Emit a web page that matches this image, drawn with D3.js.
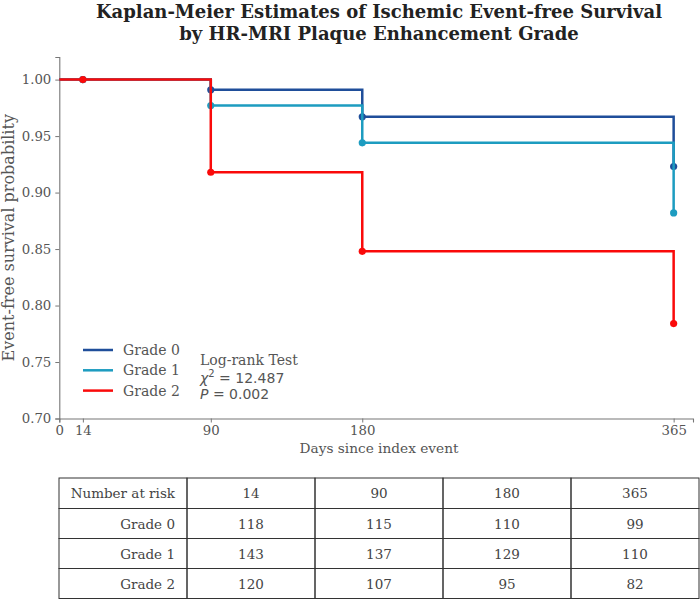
<!DOCTYPE html>
<html>
<head>
<meta charset="utf-8">
<script src="https://cdn.jsdelivr.net/npm/d3@7"></script>
<style>
  body { margin: 0; background: #fff; }
  svg { display: block; }
</style>
</head>
<body>
<svg id="chart" width="700" height="600"></svg>
<script>
// ---- data ----
const groups = ["Grade 0", "Grade 1", "Grade 2"];
const colors = ["#1f4e9a", "#1d9cc0", "#fa0a0a"];
const times = [0, 14, 90, 180, 365];
const survGrade0 = [1.0, 1.0, 0.991, 0.967, 0.923];
const survGrade1 = [1.0, 1.0, 0.977, 0.944, 0.882];
const survGrade2 = [1.0, 1.0, 0.918, 0.848, 0.784];
const markerTimes = [14, 90, 180, 365];
const xTicks = [0, 14, 90, 180, 365];
const yTicks = [0.70, 0.75, 0.80, 0.85, 0.90, 0.95, 1.00];
const riskTimes = ["14", "90", "180", "365"];
const riskGrade0 = [118, 115, 110, 99];
const riskGrade1 = [143, 137, 129, 110];
const riskGrade2 = [120, 107, 95, 82];
const titleLines = ["Kaplan-Meier Estimates of Ischemic Event-free Survival",
                    "by HR-MRI Plaque Enhancement Grade"];
const statLines = ["Log-rank Test", "12.487", "0.002"];

const survs = [survGrade0, survGrade1, survGrade2];
const risks = [riskGrade0, riskGrade1, riskGrade2];

const svg = d3.select("#chart");
const serif = "'DejaVu Serif', serif";
const sans = "'DejaVu Sans', sans-serif";
const textCol = "#555";

const x = d3.scaleLinear().domain([0, 376.5]).range([59.3, 693]);
const y = d3.scaleLinear().domain([0.70, 1.02]).range([418.5, 57]);

// title
svg.append("g").selectAll("text").data(titleLines).join("text")
  .attr("x", 379).attr("y", (d, i) => 18 + i * 21.5)
  .attr("text-anchor", "middle")
  .attr("font-family", serif).attr("font-weight", "bold")
  .attr("font-size", 18).attr("fill", "#222")
  .text(d => d);

// axes
const xAxis = svg.append("g").attr("transform", `translate(0,${y(0.70)})`)
  .call(d3.axisBottom(x).tickValues(xTicks).tickSize(4).tickPadding(3).tickFormat(d3.format("d")));
const yAxis = svg.append("g").attr("transform", `translate(${x(0)},0)`)
  .call(d3.axisLeft(y).tickValues(yTicks).tickSize(4).tickPadding(4).tickFormat(d3.format(".2f")));
[xAxis, yAxis].forEach(a => {
  a.select(".domain").attr("stroke", "#777").attr("stroke-width", 1.1);
  a.selectAll(".tick line").attr("stroke", "#777");
  a.selectAll(".tick text").attr("font-family", serif).attr("font-size", 13.3).attr("fill", textCol);
});

svg.append("text").attr("x", 379).attr("y", 453)
  .attr("text-anchor", "middle").attr("font-family", serif).attr("font-size", 13.7)
  .attr("fill", textCol).text("Days since index event");
svg.append("text").attr("transform", `translate(14,${y(0.86)}) rotate(-90)`)
  .attr("text-anchor", "middle").attr("font-family", serif).attr("font-size", 16)
  .attr("fill", textCol).text("Event-free survival probability");

// curves
const line = d3.line().x(d => x(d[0])).y(d => y(d[1])).curve(d3.curveStepAfter);
groups.forEach((g, gi) => {
  const pts = times.map((t, i) => [t, survs[gi][i]]);
  svg.append("path").datum(pts)
    .attr("d", line).attr("fill", "none")
    .attr("stroke", colors[gi]).attr("stroke-width", 2.5);
  const mk = markerTimes.map(t => [t, survs[gi][times.indexOf(t)]]);
  svg.append("g").selectAll("circle").data(mk).join("circle")
    .attr("cx", d => x(d[0])).attr("cy", d => y(d[1])).attr("r", 3.6)
    .attr("fill", colors[gi]);
});

// legend
const leg = svg.append("g").selectAll("g").data(groups).join("g")
  .attr("transform", (d, i) => `translate(83,${350 + i * 20.3})`);
leg.append("line").attr("x1", 0).attr("x2", 30).attr("y1", 0).attr("y2", 0)
  .attr("stroke", (d, i) => colors[i]).attr("stroke-width", 2.5);
leg.append("text").attr("x", 40).attr("y", 5)
  .attr("font-family", serif).attr("font-size", 14).attr("fill", textCol).text(d => d);

// log-rank annotation
const st = svg.append("g").attr("fill", textCol).attr("font-size", 14);
st.append("text").attr("x", 200).attr("y", 365).attr("font-family", serif).text(statLines[0]);
const t2 = st.append("text").attr("x", 200).attr("y", 383).attr("font-family", sans);
t2.append("tspan").attr("font-style", "italic").text("χ");
t2.append("tspan").attr("font-size", 10).attr("dy", -6).text("2");
t2.append("tspan").attr("dy", 6).text(" = " + statLines[1]);
const t3 = st.append("text").attr("x", 200).attr("y", 399).attr("font-family", sans);
t3.append("tspan").attr("font-style", "italic").text("P");
t3.append("tspan").text(" = " + statLines[2]);

// number-at-risk table
const colX = [59, 187, 315, 443, 571, 699];
const rowY = [478, 508.5, 538.5, 568.5, 598.5];
const tableRows = [["Number at risk"].concat(riskTimes)]
  .concat(groups.map((g, gi) => [g].concat(risks[gi].map(String))));
const tbl = svg.append("g");
tableRows.forEach((row, ri) => {
  row.forEach((cell, ci) => {
    tbl.append("rect")
      .attr("x", colX[ci]).attr("y", rowY[ri])
      .attr("width", colX[ci + 1] - colX[ci]).attr("height", rowY[ri + 1] - rowY[ri])
      .attr("fill", "none").attr("stroke", "#333").attr("stroke-width", 1);
    tbl.append("text")
      .attr("x", ci === 0 ? colX[1] - 12 : (colX[ci] + colX[ci + 1]) / 2)
      .attr("y", (rowY[ri] + rowY[ri + 1]) / 2 + 5)
      .attr("text-anchor", ci === 0 ? "end" : "middle")
      .attr("font-family", serif).attr("font-size", 13.5).attr("fill", "#444")
      .text(cell);
  });
});
</script>
</body>
</html>
